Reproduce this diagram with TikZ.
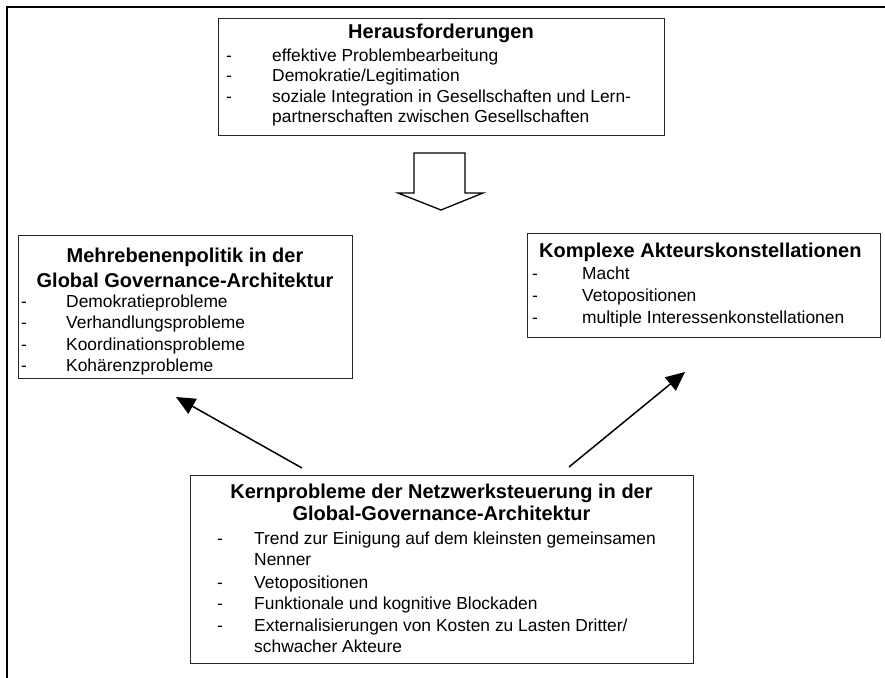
\documentclass[tikz,border=0pt]{standalone}
\usepackage{fontspec}
\setmainfont{Liberation Sans}
\usetikzlibrary{arrows.meta}
\newcommand\itemfont{\fontsize{17.4}{21}\selectfont}
\newcommand\headfont{\fontsize{20}{24}\selectfont\bfseries}
\begin{document}
\begin{tikzpicture}[x=1pt,y=-1pt,
  frameline/.style={line width=2.2pt, black},
  box/.style={draw=black!85, line width=1.4pt, rectangle, inner sep=0pt, anchor=north west},
  itm/.style={anchor=base west, inner sep=0pt, font=\itemfont},
  ttl/.style={anchor=base, inner sep=0pt, font=\headfont},
  ttlw/.style={anchor=base west, inner sep=0pt, font=\headfont},
  link/.style={line width=1.5pt, -{Triangle[length=19pt,width=17pt]}},
  hollow/.style={draw=black, line width=1.3pt, fill=white, line join=miter}]
\useasboundingbox (0,0) rectangle (885,677);

% outer frame (top and left edges)
\draw[frameline] (7,680) -- (7,7) -- (890,7);

% ---- Herausforderungen ----
\node[box, minimum width=446pt, minimum height=117pt] (chal) at (218,18) {};
\node[ttl] (chal-t) at (441,39) {Herausforderungen};
\node[itm] (chal-d1) at (226,61) {-};
\node[itm] (chal-1) at (272,61) {effektive Problembearbeitung};
\node[itm] (chal-d2) at (226,81.5) {-};
\node[itm] (chal-2) at (272,81.5) {Demokratie/Legitimation};
\node[itm] (chal-d3) at (226,102) {-};
\node[itm] (chal-3) at (272,102) {soziale Integration in Gesellschaften und Lern-};
\node[itm] (chal-3b) at (272,122.5) {partnerschaften zwischen Gesellschaften};

% block arrow
\draw[hollow] (414,153) -- (465,153) -- (465,193) -- (483,193) -- (441,210)
  -- (398,193) -- (414,193) -- cycle;

% ---- Mehrebenenpolitik ----
\node[box, minimum width=334pt, minimum height=143pt] (multi) at (18,235) {};
\node[ttl] (multi-t1) at (185,262) {Mehrebenenpolitik in der};
\node[ttl] (multi-t2) at (185,287) {Global Governance-Architektur};
\node[itm] (multi-d1) at (21,307) {-};
\node[itm] (multi-1) at (66,307) {Demokratieprobleme};
\node[itm] (multi-d2) at (21,328.5) {-};
\node[itm] (multi-2) at (66,328.5) {Verhandlungsprobleme};
\node[itm] (multi-d3) at (21,350) {-};
\node[itm] (multi-3) at (66,350) {Koordinationsprobleme};
\node[itm] (multi-d4) at (21,371.5) {-};
\node[itm] (multi-4) at (66,371.5) {Kohärenzprobleme};

% ---- Komplexe Akteurskonstellationen ----
\node[box, minimum width=353pt, minimum height=104pt] (actors) at (527,233) {};
\node[ttlw] (actors-t) at (539,257) {Komplexe Akteurskonstellationen};
\node[itm] (actors-d1) at (532,279) {-};
\node[itm] (actors-1) at (582,279) {Macht};
\node[itm] (actors-d2) at (532,301) {-};
\node[itm] (actors-2) at (582,301) {Vetopositionen};
\node[itm] (actors-d3) at (532,323) {-};
\node[itm] (actors-3) at (582,323) {multiple Interessenkonstellationen};

% ---- Kernprobleme ----
\node[box, minimum width=503pt, minimum height=188pt] (core) at (190,475) {};
\node[ttl] (core-t1) at (441.5,498) {Kernprobleme der Netzwerksteuerung in der};
\node[ttl] (core-t2) at (441.5,520) {Global-Governance-Architektur};
\node[itm] (core-d1) at (217,544) {-};
\node[itm] (core-1) at (254,544) {Trend zur Einigung auf dem kleinsten gemeinsamen};
\node[itm] (core-1b) at (254,565) {Nenner};
\node[itm] (core-d2) at (217,588) {-};
\node[itm] (core-2) at (254,588) {Vetopositionen};
\node[itm] (core-d3) at (217,609) {-};
\node[itm] (core-3) at (254,609) {Funktionale und kognitive Blockaden};
\node[itm] (core-d4) at (217,631) {-};
\node[itm] (core-4) at (254,631) {Externalisierungen von Kosten zu Lasten Dritter/};
\node[itm] (core-4b) at (254,652) {schwacher Akteure};

% connectors from the core problems to the two upper boxes
\coordinate (l-start) at (302,468);
\coordinate (l-end) at (176,397);
\coordinate (r-start) at (569,467);
\coordinate (r-end) at (685,372);
\draw[link] (l-start) -- (l-end);
\draw[link] (r-start) -- (r-end);
\end{tikzpicture}
\end{document}
